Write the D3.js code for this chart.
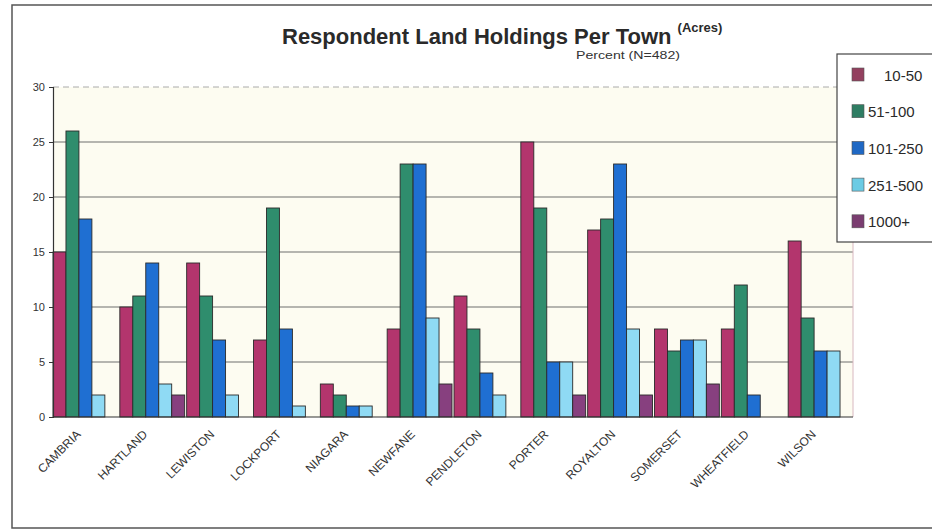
<!DOCTYPE html>
<html lang="en">
<head>
  <meta charset="UTF-8">
  <title>Respondent Land Holdings Per Town</title>
  <script src="https://d3js.org/d3.v7.min.js"></script>
  <style>
    body, html { margin: 0; padding: 0; background: #fff; overflow: hidden; }
    svg { display: block; font-family: Arial, "Liberation Sans", sans-serif; }
  </style>
</head>
<body>
  <div id="chart"></div>
  <script>
    // Data
    const towns = ['CAMBRIA', 'HARTLAND', 'LEWISTON', 'LOCKPORT', 'NIAGARA', 'NEWFANE',
                   'PENDLETON', 'PORTER', 'ROYALTON', 'SOMERSET', 'WHEATFIELD', 'WILSON'];
    const sizes = ['10-50', '51-100', '101-250', '251-500', '1000+'];
    const acres10to50   = [15, 10, 14, 7, 3, 8, 11, 25, 17, 8, 8, 16];
    const acres51to100  = [26, 11, 11, 19, 2, 23, 8, 19, 18, 6, 12, 9];
    const acres101to250 = [18, 14, 7, 8, 1, 23, 4, 5, 23, 7, 2, 6];
    const acres251to500 = [2, 3, 2, 1, 1, 9, 2, 5, 8, 7, 0, 6];
    const acres1000plus = [0, 2, 0, 0, 0, 3, 0, 2, 2, 3, 0, 0];
    const yTicks = [0, 5, 10, 15, 20, 25, 30];

    const seriesValues = [acres10to50, acres51to100, acres101to250, acres251to500, acres1000plus];
    const colors = ['#b3356d', '#2f8d6d', '#1f6fd2', '#8fdaf4', '#87407f'];
    const legendColors = ['#93405f', '#2f7d63', '#1f68c4', '#6ccbe4', '#7a3d70'];

    const W = 932, H = 531;
    const plot = { left: 53, right: 853, top: 87, bottom: 417 };

    const svg = d3.select('#chart').append('svg')
      .attr('width', W).attr('height', H);

    // outer frame
    svg.append('rect')
      .attr('x', 12).attr('y', 5).attr('width', 940).attr('height', 523)
      .attr('fill', 'none').attr('stroke', '#555').attr('stroke-width', 1.5);

    // plot background
    svg.append('rect')
      .attr('x', plot.left).attr('y', plot.top)
      .attr('width', plot.right - plot.left).attr('height', plot.bottom - plot.top)
      .attr('fill', '#fdfcf1');

    const x0 = d3.scaleBand().domain(towns)
      .range([plot.left, plot.right]).paddingInner(0.03).paddingOuter(0);
    const x1 = d3.scaleBand().domain(sizes).range([0, x0.bandwidth()]);
    const y = d3.scaleLinear().domain([0, 30]).range([plot.bottom, plot.top]);

    // gridlines
    svg.append('g').selectAll('line')
      .data(yTicks.filter(t => t > 0))
      .join('line')
      .attr('x1', plot.left).attr('x2', plot.right)
      .attr('y1', d => y(d)).attr('y2', d => y(d))
      .attr('stroke', d => d === 30 ? '#aaa' : '#6e6e6e')
      .attr('stroke-width', d => d === 30 ? 1 : 1.2)
      .attr('stroke-dasharray', d => d === 30 ? '6,4' : null);

    // right edge of plot
    svg.append('line')
      .attr('x1', plot.right).attr('x2', plot.right)
      .attr('y1', plot.top).attr('y2', plot.bottom)
      .attr('stroke', '#d8b8c0').attr('stroke-width', 1);

    // bars
    const rows = towns.map((t, i) => ({ town: t, values: sizes.map((s, k) => ({ size: s, k, v: seriesValues[k][i] })) }));
    const groups = svg.append('g').selectAll('g')
      .data(rows).join('g')
      .attr('transform', d => `translate(${x0(d.town)},0)`);
    groups.selectAll('rect')
      .data(d => d.values.filter(e => e.v > 0))
      .join('rect')
      .attr('x', d => x1(d.size))
      .attr('width', x1.bandwidth())
      .attr('y', d => y(d.v))
      .attr('height', d => y(0) - y(d.v))
      .attr('fill', d => colors[d.k])
      .attr('stroke', '#2a2a2a')
      .attr('stroke-width', 0.9);

    // y axis
    const yAxis = svg.append('g')
      .attr('transform', `translate(${plot.left},0)`)
      .call(d3.axisLeft(y).tickValues(yTicks).tickSize(4).tickPadding(4));
    yAxis.select('.domain').attr('stroke', '#333').attr('stroke-width', 1.2);
    yAxis.selectAll('.tick line').attr('stroke', '#333');
    yAxis.selectAll('text').attr('font-size', 11).attr('fill', '#333')
      .attr('font-family', 'Arial, "Liberation Sans", sans-serif');

    // x axis baseline
    svg.append('line')
      .attr('x1', plot.left).attr('x2', plot.right)
      .attr('y1', plot.bottom).attr('y2', plot.bottom)
      .attr('stroke', '#333').attr('stroke-width', 1.2);

    // x labels rotated
    svg.append('g').selectAll('text')
      .data(towns).join('text')
      .attr('transform', d => `translate(${x0(d) + x0.bandwidth() / 2 - 4},${plot.bottom + 18}) rotate(-45)`)
      .attr('text-anchor', 'end')
      .attr('font-size', 12)
      .attr('fill', '#333')
      .text(d => d);

    // title
    const title = svg.append('text')
      .attr('x', 282).attr('y', 44)
      .attr('font-size', 22).attr('font-weight', 'bold').attr('fill', '#2a2a2a');
    title.append('tspan').text('Respondent Land Holdings Per Town ');
    title.append('tspan').attr('font-size', 13).attr('dy', -12).text('(Acres)');

    svg.append('text')
      .attr('x', 576).attr('y', 59)
      .attr('font-size', 11).attr('fill', '#333')
      .attr('textLength', 104).attr('lengthAdjust', 'spacingAndGlyphs')
      .text('Percent (N=482)');

    // legend
    svg.append('rect')
      .attr('x', 837).attr('y', 54).attr('width', 120).attr('height', 188)
      .attr('fill', '#fff').attr('stroke', '#444').attr('stroke-width', 1.2);
    const leg = svg.append('g').selectAll('g')
      .data(sizes).join('g')
      .attr('transform', (d, i) => `translate(852,${75 + i * 36.7})`);
    leg.append('rect')
      .attr('x', 0).attr('y', -7).attr('width', 12).attr('height', 13)
      .attr('fill', (d, i) => legendColors[i]).attr('stroke', '#555').attr('stroke-width', 0.6);
    leg.append('text')
      .attr('x', (d, i) => i === 0 ? 32 : 16)
      .attr('y', 5.5)
      .attr('font-size', 15).attr('fill', '#2a2a2a')
      .text(d => d);
  </script>
</body>
</html>
